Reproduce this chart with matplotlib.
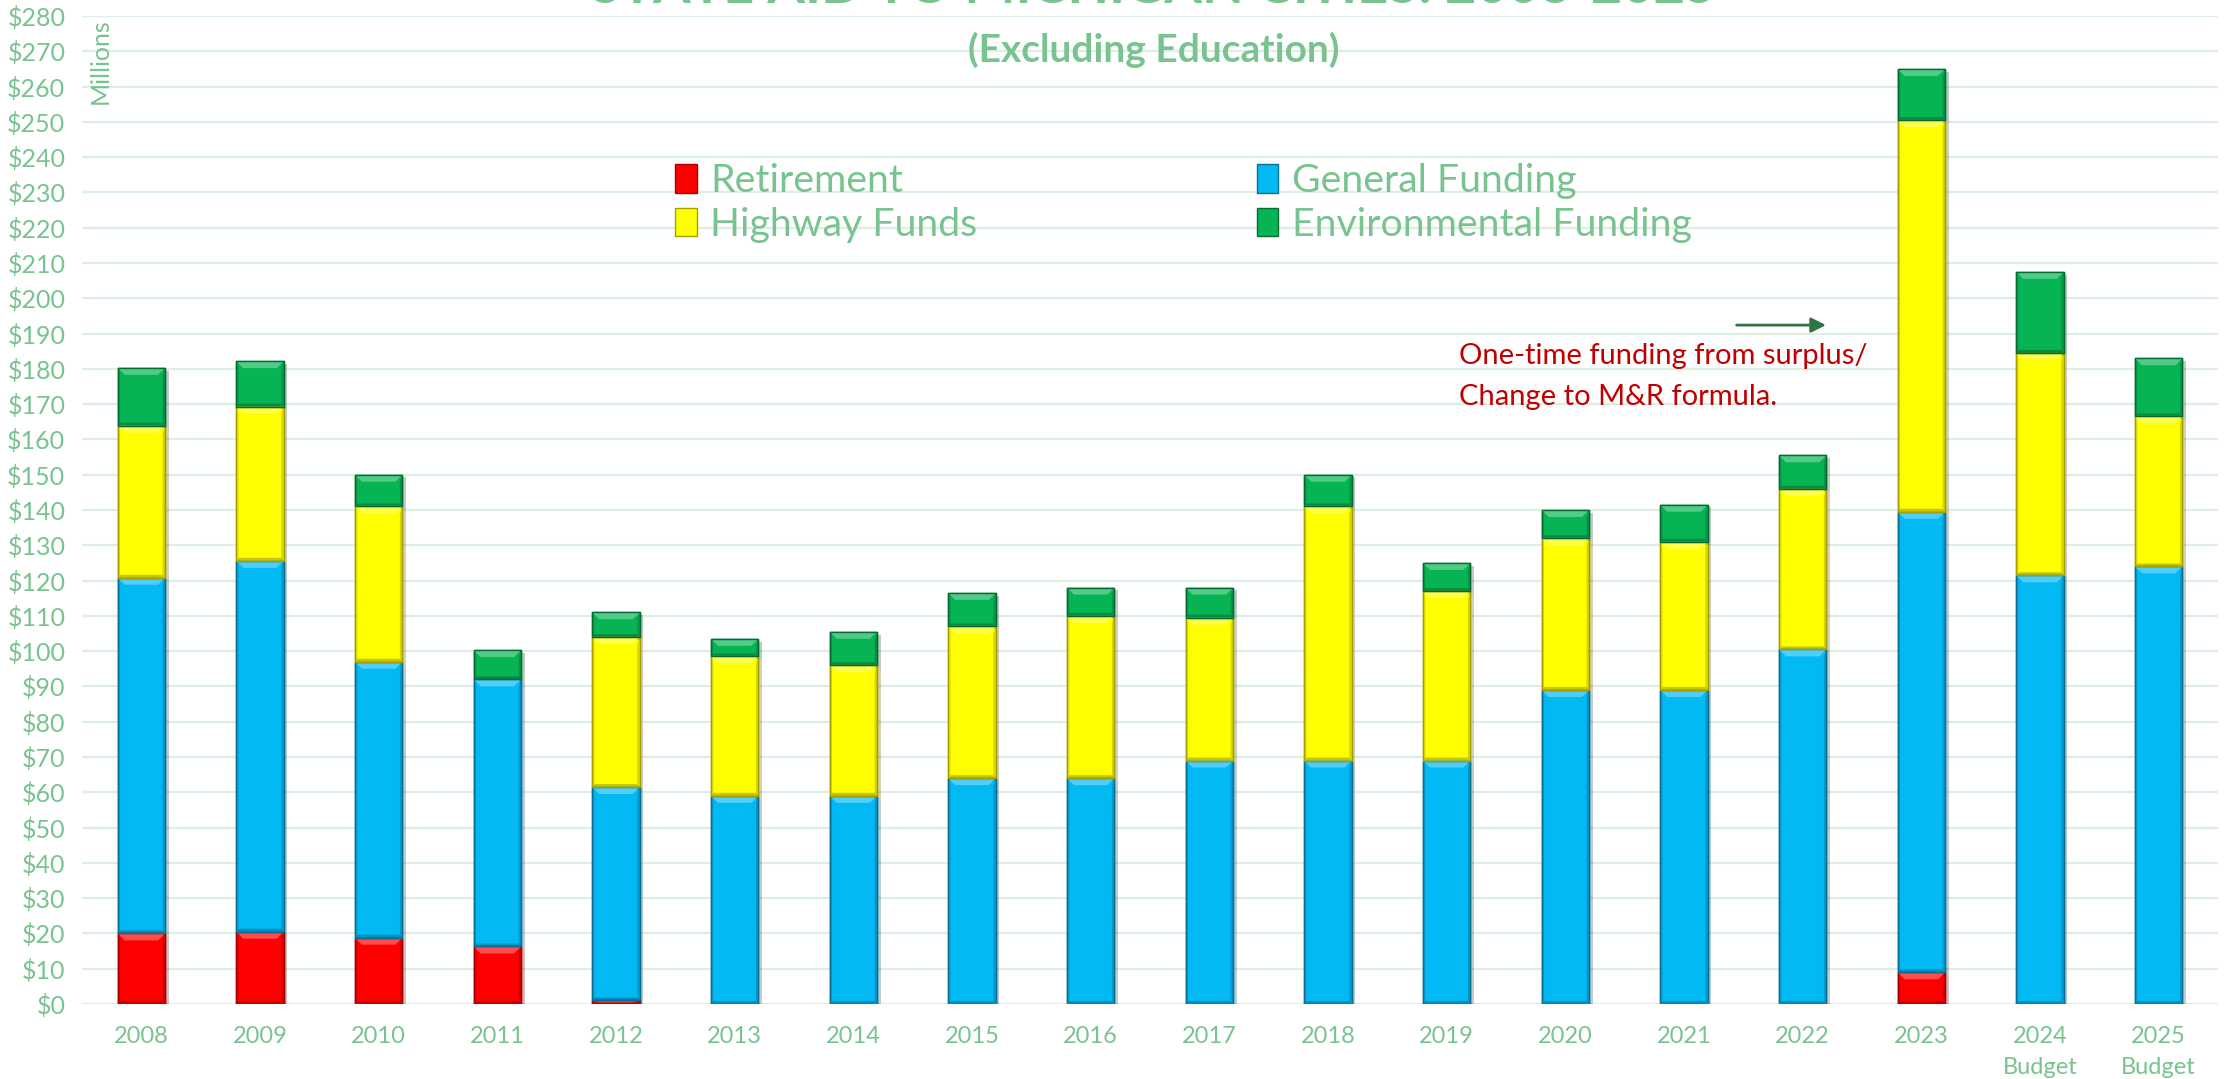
import numpy as np
import matplotlib
matplotlib.use('Agg')
import matplotlib.pyplot as plt
import matplotlib.patheffects as pe
from matplotlib.patches import Patch, Polygon
from matplotlib.colors import to_rgb

plt.rcParams['font.family'] = ['Lato', 'DejaVu Sans']

# values in $ millions
years = ['2008', '2009', '2010', '2011', '2012', '2013', '2014', '2015', '2016',
         '2017', '2018', '2019', '2020', '2021', '2022', '2023',
         '2024\nBudget', '2025\nBudget']
retirement = [20, 20.5, 18.8, 16.3, 1, 0, 0, 0, 0, 0, 0, 0, 0, 0, 0, 9, 0, 0]
general = [100.8, 105.1, 78.2, 75.7, 60.5, 59, 59, 64, 64, 69, 69, 69, 89, 89, 100.5, 130.5, 121.5, 124]
highway = [43.1, 43.7, 44, 0, 42.5, 39.5, 37, 43, 46, 40.5, 72, 48, 43, 42, 45.5, 111, 63, 42.5]
environmental = [16.4, 12.9, 9, 8.3, 7, 5, 9.5, 9.5, 8, 8.5, 9, 8, 8, 10.5, 9.5, 14.5, 23, 16.5]

series = [
    ('Retirement', retirement, '#FF0000', '#A80000'),
    ('General Funding', general, '#03B9F4', '#0A6E92'),
    ('Highway Funds', highway, '#FFFF00', '#A8A000'),
    ('Environmental Funding', environmental, '#06B453', '#046B33'),
]

txt = '#78C38F'


def mix(c, other, t):
    c = np.array(to_rgb(c))
    return tuple(c * (1 - t) + np.array(other) * t)


fig = plt.figure(figsize=(22.28, 10.79), dpi=100)
ax = fig.add_axes([82 / 2228, 1 - 1004 / 1079, (2218 - 82) / 2228, (1004 - 16) / 1079])

x = np.arange(len(years))
ax.set_xlim(-0.5, len(years) - 0.5)
ax.set_ylim(0, 280)

# bevel depth in pixels -> data units
px_x = (len(years)) / 2136.0
px_y = 280 / 988.0

bottom = np.zeros(len(years))
for name, vals, col, edge in series:
    vals = np.array(vals, dtype=float)
    bars = ax.bar(x, vals, 0.4, bottom=bottom, color=col, edgecolor=edge, linewidth=1.0,
                  zorder=3)
    light = mix(col, (1, 1, 1), 0.3)
    dark = mix(col, (0, 0, 0), 0.22)
    for b, v in zip(bars, vals):
        if v == 0:
            b.set_visible(False)
            continue
        b.set_path_effects([pe.SimplePatchShadow(offset=(2.5, -2), alpha=0.25),
                            pe.Normal()])
        x0, w = b.get_x(), b.get_width()
        y0, h = b.get_y(), b.get_height()
        x1, y1 = x0 + w, y0 + h
        dt = min(7 * px_y, h / 2)
        db = min(3 * px_y, h / 4)
        dxt, dxs = 7 * px_x, 2.5 * px_x
        top = Polygon([(x0, y1), (x1, y1), (x1 - dxt, y1 - dt), (x0 + dxt, y1 - dt)],
                      closed=True, facecolor=light, edgecolor='none', zorder=4)
        bot = Polygon([(x0, y0), (x1, y0), (x1 - dxs, y0 + db), (x0 + dxs, y0 + db)],
                      closed=True, facecolor=dark, edgecolor='none', zorder=4)
        right = Polygon([(x1, y0), (x1, y1), (x1 - dxs, y1 - dt), (x1 - dxs, y0 + db)],
                        closed=True, facecolor=dark, edgecolor='none', zorder=4, alpha=0.7)
        left = Polygon([(x0, y0), (x0, y1), (x0 + dxs, y1 - dt), (x0 + dxs, y0 + db)],
                       closed=True, facecolor=dark, edgecolor='none', zorder=4, alpha=0.4)
        for p in (top, bot, right, left):
            ax.add_patch(p)
        ax.add_patch(Polygon([(x0, y0), (x1, y0), (x1, y1), (x0, y1)], closed=True,
                             facecolor='none', edgecolor=edge, linewidth=1.0, zorder=5))
    bottom += vals

ax.set_xticks(x)
ax.set_xticklabels(years, fontsize=17, color=txt, linespacing=1.55)
ax.set_yticks(range(0, 281, 10))
ax.set_yticklabels(['$%d' % v for v in range(0, 281, 10)], fontsize=18, color=txt)
ax.tick_params(axis='both', length=0)
ax.tick_params(axis='y', pad=12)
ax.tick_params(axis='x', pad=16)
for s in ax.spines.values():
    s.set_visible(False)
ax.set_axisbelow(True)
ax.yaxis.grid(True, color='#DDEFE3', linewidth=1.6)

# title is cut off at the top edge in the original
fig.text(0.518, 1 - 3 / 1079, 'STATE AID TO MICHIGAN CITIES: 2008-2025', ha='center',
         va='baseline', fontsize=39, fontweight='bold', color=txt)
fig.text(1154 / 2228, 1 - 50 / 1079, '(Excluding Education)', ha='center', va='center',
         fontsize=28, fontweight='bold', color=txt)
fig.text(100 / 2228, 1 - 61 / 1079, 'Millions', rotation=90, ha='center', va='center',
         fontsize=18, color=txt)

handles = [Patch(facecolor=c, edgecolor=e) for _, _, c, e in series]
labels = [s[0] for s in series]
order = [0, 2, 1, 3]
fig.legend([handles[i] for i in order], [labels[i] for i in order],
           loc='upper left', bbox_to_anchor=(0.303, 0.849), ncol=2, frameon=False,
           fontsize=28.3, labelcolor=txt, columnspacing=7.1, handlelength=0.55,
           handleheight=0.75, handletextpad=0.35, labelspacing=0.2, borderpad=0,
           borderaxespad=0)

ax.annotate('', xy=(14.22, 192.4), xytext=(13.42, 192.4),
            arrowprops=dict(arrowstyle='-|>', color='#2E7543', lw=2, mutation_scale=22))
ax.text(11.1, 177.8, 'One-time funding from surplus/\nChange to M&R formula.',
        color='#C00000', fontsize=21, ha='left', va='center', linespacing=1.7)

fig.savefig('out.png', dpi=100)
